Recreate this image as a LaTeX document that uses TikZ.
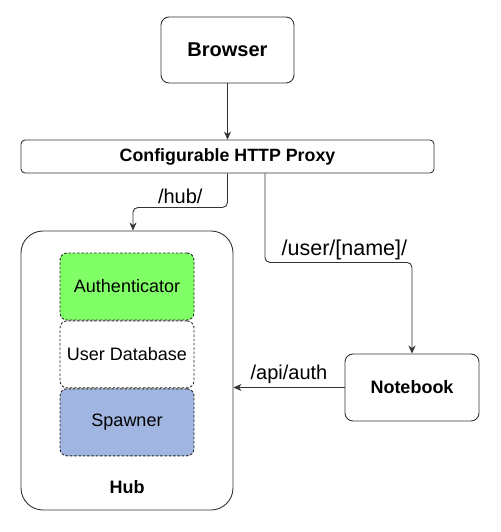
\documentclass[tikz,border=0pt]{standalone}
\usepackage{fontspec}
\setmainfont{Liberation Sans}
\usepackage{xcolor}
\usetikzlibrary{arrows.meta,positioning}

\definecolor{authgreen}{HTML}{80FF66}
\definecolor{spawnblue}{HTML}{A0B5E0}

\begin{document}
\begin{tikzpicture}[
  x=1pt, y=-1pt,
  line width=0.9pt,
  every node/.style={align=center, font=\fontsize{18}{20}\selectfont},
  box/.style={draw=black!80, rounded corners=8pt, fill=white,
              minimum width=133pt, minimum height=66pt},
  part/.style={draw=black!85, dash pattern=on 2.5pt off 1.8pt, rounded corners=7pt,
               minimum width=134pt, minimum height=67pt, inner sep=0pt},
  link/.style={draw=black!80, rounded corners=5pt, -{Stealth[length=8pt, width=7pt, inset=2.5pt]}},
  lbl/.style={font=\fontsize{20}{22}\selectfont, inner sep=3pt},
]
\useasboundingbox (0,0) rectangle (500,532);

\node[box, font=\fontsize{20}{22}\selectfont\bfseries] (browser) at (227.5,50) {Browser};
\node[draw=black!80, rounded corners=4pt, minimum width=413pt, minimum height=33pt,
      font=\fontsize{17.8}{20}\selectfont\bfseries] (proxy) at (227.5,156.5) {Configurable HTTP Proxy};

% hub with its parts
\node[draw=black!80, rounded corners=22pt, minimum width=212pt, minimum height=279pt] (hub) at (127,370.5) {};
\node[part, fill=authgreen] (auth) at (127,286.5) {Authenticator};
\node[part, below=0pt of auth] (userdb) {User Database};
\node[part, fill=spawnblue, below=0pt of userdb] (spawner) {Spawner};
\node[font=\fontsize{18}{20}\selectfont\bfseries] (hubname) at (127,487) {Hub};

\node[box, minimum width=134pt, minimum height=67pt, font=\fontsize{18}{20}\selectfont\bfseries] (notebook) at (412,387.5) {Notebook};

\draw[link] (browser) -- (proxy);
\draw[link] (proxy.south) -- ++(0,34) -| node[pos=0.25, above, lbl] {/hub/} ([xshift=6pt]hub.north);
\draw[link] ([xshift=37.5pt]proxy.south) -- ++(0,89) -| node[pos=0.27, above, lbl, font=\fontsize{21.5}{23}\selectfont, inner sep=2pt] {/user/[name]/} (notebook.north);
\draw[link] (notebook.west) -- node[above, lbl] {/api/auth} (notebook.west -| hub.east);

\end{tikzpicture}
\end{document}
